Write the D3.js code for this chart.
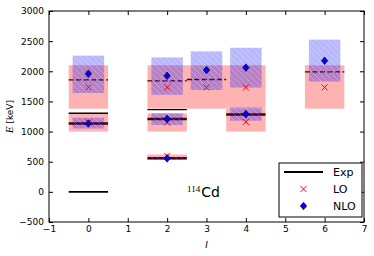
<!DOCTYPE html>
<html>
<head>
<meta charset="utf-8">
<script src="https://cdn.jsdelivr.net/npm/d3@7"></script>
<style>
  body { margin: 0; background: white; }
  text { font-family: "DejaVu Sans", sans-serif; }
</style>
</head>
<body>
<div id="chart"></div>
<script>
// experimental levels (spin, energy, kind)
var expSpin = [0, 0, 0, 0, 2, 2, 2, 2, 3, 4, 6]
var expEnergy = [0, 1135, 1305, 1858, 558, 1209, 1364, 1842, 1864, 1284, 1990]
var expKind = ["gs", "main", "other", "high", "main", "main", "other", "high", "high", "main", "high"]

// LO calculation: value and band
var loSpin = [0, 0, 2, 2, 2, 3, 4, 4, 6]
var loEnergy = [1150, 1733, 595, 1150, 1733, 1733, 1160, 1733, 1733]
var loLow = [1000, 1380, 540, 1000, 1380, 1380, 1000, 1380, 1380]
var loHigh = [1300, 2100, 620, 1300, 2100, 2100, 1375, 2100, 2100]

// NLO calculation: value and band
var nloSpin = [0, 0, 2, 2, 2, 3, 4, 4, 6]
var nloEnergy = [1135, 1960, 555, 1210, 1925, 2020, 1290, 2060, 2175]
var nloLow = [1050, 1640, 540, 1110, 1610, 1690, 1180, 1730, 1830]
var nloHigh = [1230, 2260, 575, 1305, 2230, 2330, 1400, 2390, 2525]

var xTicks = [-1, 0, 1, 2, 3, 4, 5, 6, 7]
var yTicks = [-500, 0, 500, 1000, 1500, 2000, 2500, 3000]

var w = 374, h = 256
var margin = {top: 11, right: 10, bottom: 34, left: 49}

var svg = d3.select("#chart").append("svg")
    .attr("width", w)
    .attr("height", h)

var defs = svg.append("defs")
var pat = defs.append("pattern")
    .attr("id", "hatch")
    .attr("patternUnits", "userSpaceOnUse")
    .attr("width", 6)
    .attr("height", 6)
pat.append("path")
    .attr("d", "M-1,-1 L7,7 M-1,5 L1,7 M5,-1 L7,1")
    .attr("stroke", "#ffffff")
    .attr("stroke-opacity", 0.3)
    .attr("stroke-width", 0.8)

var xScale = d3.scaleLinear().domain([-1, 7]).range([margin.left, w - margin.right])
var yScale = d3.scaleLinear().domain([-500, 3000]).range([h - margin.bottom, margin.top])

var plot = svg.append("g")

// experimental lines first (boxes overlay them)
var expData = expSpin.map((s, i) => ({s: s, e: expEnergy[i], k: expKind[i]}))
var widths = {gs: 1.6, main: 2.6, other: 1.4, high: 1.3}
plot.selectAll(".exp").data(expData).enter().append("line")
    .attr("x1", d => xScale(d.s - 0.5))
    .attr("x2", d => xScale(d.s + 0.5))
    .attr("y1", d => yScale(d.e))
    .attr("y2", d => yScale(d.e))
    .attr("stroke", "black")
    .attr("stroke-width", d => widths[d.k])
    .attr("stroke-dasharray", d => d.k == "high" ? "5,2.5" : null)

// LO bands
var loData = loSpin.map((s, i) => ({s: s, e: loEnergy[i], lo: loLow[i], hi: loHigh[i]}))
plot.selectAll(".lo").data(loData).enter().append("rect")
    .attr("x", d => xScale(d.s - 0.5))
    .attr("width", d => xScale(d.s + 0.5) - xScale(d.s - 0.5))
    .attr("y", d => yScale(d.hi))
    .attr("height", d => yScale(d.lo) - yScale(d.hi))
    .attr("fill", "red")
    .attr("fill-opacity", 0.3)

// NLO bands
var nloData = nloSpin.map((s, i) => ({s: s, e: nloEnergy[i], lo: nloLow[i], hi: nloHigh[i]}))
var nb = plot.selectAll(".nlo").data(nloData).enter().append("g")
nb.append("rect")
    .attr("x", d => xScale(d.s - 0.4))
    .attr("width", d => xScale(d.s + 0.4) - xScale(d.s - 0.4))
    .attr("y", d => yScale(d.hi))
    .attr("height", d => yScale(d.lo) - yScale(d.hi))
    .attr("fill", "blue")
    .attr("fill-opacity", 0.28)
nb.append("rect")
    .attr("x", d => xScale(d.s - 0.4))
    .attr("width", d => xScale(d.s + 0.4) - xScale(d.s - 0.4))
    .attr("y", d => yScale(d.hi))
    .attr("height", d => yScale(d.lo) - yScale(d.hi))
    .attr("fill", "url(#hatch)")

// markers
function cross(g, x, y) {
  var r = 3
  g.append("path")
      .attr("d", `M${x-r},${y-r}L${x+r},${y+r}M${x-r},${y+r}L${x+r},${y-r}`)
      .attr("stroke", "red")
      .attr("stroke-width", 1)
}
function diamond(g, x, y) {
  var r = 3.8
  g.append("path")
      .attr("d", `M${x},${y-r}L${x+r*0.85},${y}L${x},${y+r}L${x-r*0.85},${y}Z`)
      .attr("fill", "blue")
      .attr("stroke", "black")
      .attr("stroke-width", 0.6)
}
loData.forEach(d => cross(plot, xScale(d.s), yScale(d.e)))
nloData.forEach(d => diamond(plot, xScale(d.s), yScale(d.e)))

// axes with inward ticks
var x0 = margin.left, x1 = w - margin.right, y0 = h - margin.bottom, y1 = margin.top
var fmt = d => d < 0 ? "\u2212" + Math.abs(d) : d
svg.append("g")
    .attr("transform", `translate(0, ${y0})`)
    .call(d3.axisBottom(xScale).tickValues(xTicks).tickSizeInner(-4).tickSizeOuter(0).tickPadding(4).tickFormat(fmt))
svg.append("g")
    .attr("transform", `translate(0, ${y1})`)
    .call(d3.axisTop(xScale).tickValues(xTicks).tickSizeInner(-4).tickSizeOuter(0).tickFormat(""))
svg.append("g")
    .attr("transform", `translate(${x0}, 0)`)
    .call(d3.axisLeft(yScale).tickValues(yTicks).tickSizeInner(-4).tickSizeOuter(0).tickPadding(5).tickFormat(fmt))
svg.append("g")
    .attr("transform", `translate(${x1}, 0)`)
    .call(d3.axisRight(yScale).tickValues(yTicks).tickSizeInner(-4).tickSizeOuter(0).tickFormat(""))
svg.selectAll(".tick text")
    .attr("font-family", "DejaVu Sans")
    .attr("font-size", 9)
    .attr("fill", "black")
svg.selectAll(".domain").remove()
svg.append("rect")
    .attr("x", x0).attr("y", y1)
    .attr("width", x1 - x0).attr("height", y0 - y1)
    .attr("fill", "none")
    .attr("stroke", "black")
    .attr("stroke-width", 1)

// axis labels
var yl = svg.append("text")
    .attr("transform", `translate(13, ${(y0 + y1) / 2}) rotate(-90)`)
    .attr("text-anchor", "middle")
    .attr("font-size", 9)
yl.append("tspan").attr("font-family", "DejaVu Serif").attr("font-style", "italic").text("E")
yl.append("tspan").text(" [keV]")
svg.append("text")
    .attr("x", xScale(3))
    .attr("y", 248)
    .attr("text-anchor", "middle")
    .attr("font-family", "DejaVu Serif")
    .attr("font-style", "italic")
    .attr("font-size", 9)
    .text("I")

// nucleus label
var nl = svg.append("text")
    .attr("x", 187)
    .attr("y", 197)
nl.append("tspan").attr("font-family", "Liberation Serif").attr("font-size", 9).attr("dy", -5).text("114")
nl.append("tspan").attr("font-size", 14).attr("dy", 5).attr("dx", 1).text("Cd")

// legend
var lg = svg.append("g")
lg.append("rect")
    .attr("x", 279).attr("y", 163)
    .attr("width", 83).attr("height", 54)
    .attr("fill", "white")
    .attr("stroke", "black")
    .attr("stroke-width", 1)
lg.append("line")
    .attr("x1", 284).attr("x2", 323)
    .attr("y1", 172).attr("y2", 172)
    .attr("stroke", "black").attr("stroke-width", 2)
cross(lg, 303.5, 189)
diamond(lg, 303.5, 206)
var labels = ["Exp", "LO", "NLO"]
lg.selectAll(".lt").data(labels).enter().append("text")
    .attr("x", 333)
    .attr("y", (d, i) => 176 + i * 17)
    .attr("font-size", 11)
    .text(d => d)
</script>
</body>
</html>
